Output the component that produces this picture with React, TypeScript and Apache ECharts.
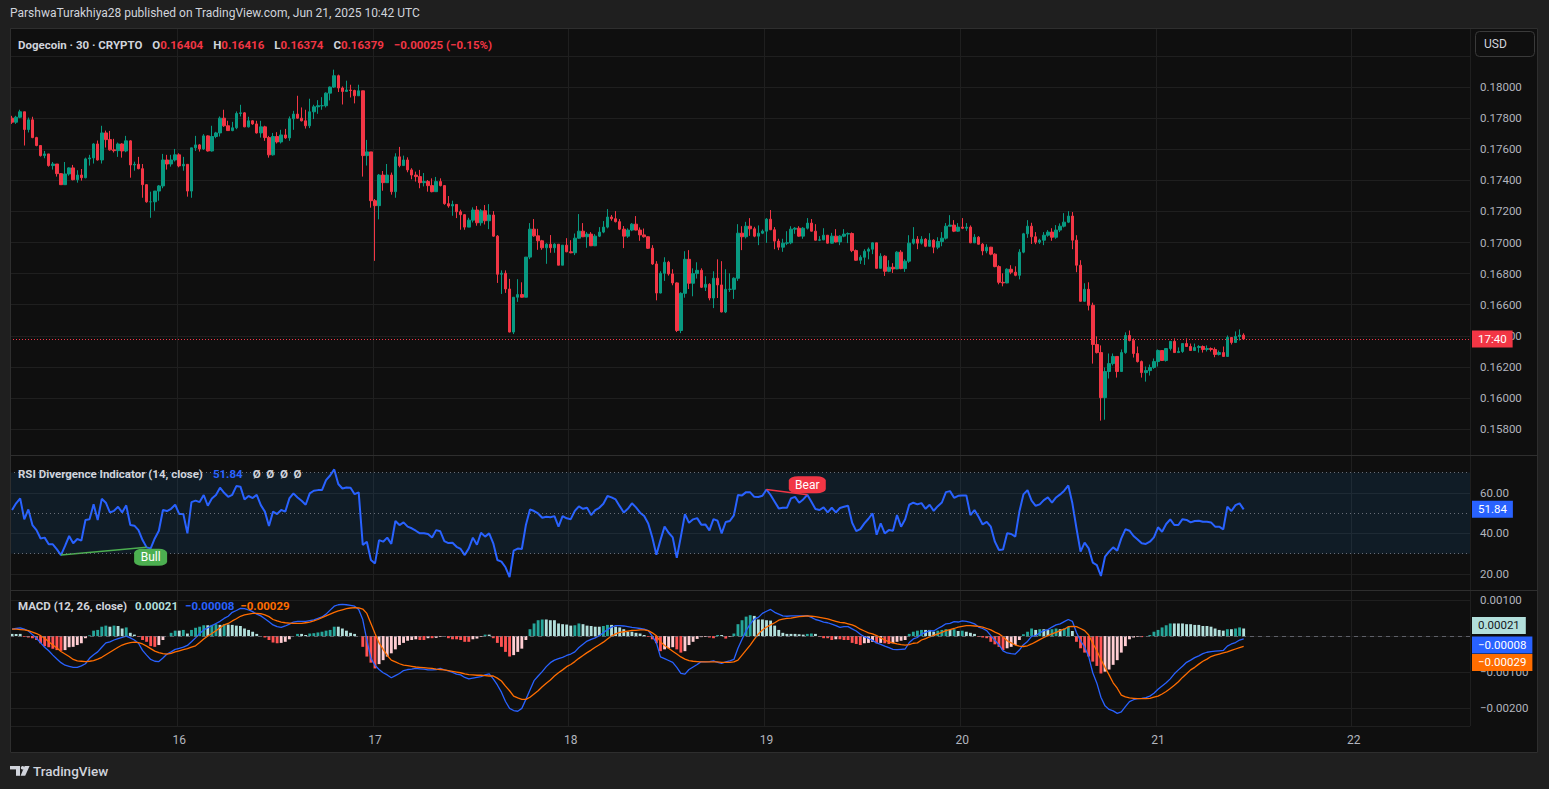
import React, { useEffect, useRef } from "react";
import * as echarts from "echarts";

const FONT = 'Roboto, "Noto Sans", "DejaVu Sans", sans-serif';

// ---- time slots (30 min) ----
const START_DAY = 15;
const START_MINUTE = 210; // 03:30
const SLOT_MINUTES = 30;
const SLOT_COUNT = 358;
const DAY_TICKS = ["16", "17", "18", "19", "20", "21", "22"];

// ---- price data, units of 0.00001 USD ----
const FIRST_OPEN = 17800;
const CLOSE = [
  17774,17806,17841,17727,17789,17675,17624,17559,17570,17495,
  17505,17443,17372,17441,17480,17404,17434,17417,17538,17544,
  17634,17531,17705,17662,17596,17591,17634,17589,17654,17499,
  17503,17475,17372,17262,17262,17331,17364,17531,17505,17531,
  17564,17493,17503,17331,17609,17628,17602,17686,17589,17682,
  17705,17800,17751,17720,17738,17830,17834,17744,17783,17763,
  17705,17744,17675,17564,17682,17647,17692,17673,17796,17826,
  17800,17783,17751,17841,17873,17880,17880,17961,18000,18073,
  17994,17972,17981,17978,17944,17976,17559,17583,17269,17237,
  17434,17385,17434,17327,17551,17495,17531,17467,17434,17424,
  17385,17392,17366,17327,17392,17366,17250,17235,17245,17198,
  17179,17099,17144,17209,17127,17204,17140,17177,17041,16796,
  16802,16701,16424,16648,16665,16648,16906,17086,17043,17011,
  16966,16989,16966,16989,16854,16983,16940,16934,17028,17073,
  17037,17054,16979,17041,17067,17099,17164,17153,17134,17086,
  17041,17080,17118,17080,17049,17037,16963,16862,16675,16802,
  16873,16798,16740,16434,16673,16892,16738,16800,16821,16712,
  16731,16643,16770,16727,16553,16699,16699,16770,17060,17037,
  17105,17088,17041,17060,17073,17150,17082,17009,16970,16996,
  16998,17086,17092,17041,17092,17125,17073,17015,17017,17047,
  16996,17041,17004,17041,17054,17058,16948,16886,16905,16944,
  16957,16998,16834,16912,16815,16841,16830,16938,16832,16880,
  16996,17021,16996,17021,16976,17015,16970,17006,17028,17105,
  17112,17073,17099,17092,17099,16998,17034,16989,16946,16970,
  16925,16845,16744,16740,16828,16809,16789,16938,17056,17105,
  17037,17002,17015,17047,17067,17034,17080,17105,17131,17170,
  17015,16854,16622,16699,16596,16344,16292,16002,16170,16221,
  16267,16170,16292,16402,16370,16286,16234,16163,16176,16196,
  16234,16305,16241,16318,16364,16292,16299,16350,16331,16305,
  16325,16331,16312,16318,16312,16280,16292,16267,16389,16357,
  16396,16404,16379,
];
const HIGH = [
  17815,17815,17854,17841,17804,17809,17680,17626,17589,17570,
  17518,17505,17447,17518,17484,17499,17465,17473,17546,17564,
  17639,17656,17751,17720,17718,17667,17643,17639,17686,17658,
  17520,17551,17505,17376,17327,17331,17370,17570,17564,17564,
  17602,17574,17551,17503,17609,17686,17634,17697,17690,17751,
  17712,17811,17854,17783,17776,17843,17886,17839,17809,17787,
  17783,17783,17751,17686,17705,17710,17725,17731,17811,17847,
  17944,17869,17854,17925,17886,17916,17935,17966,18004,18112,
  18080,18004,18041,18015,17983,18015,17976,17660,17583,17280,
  17441,17460,17505,17450,17574,17615,17559,17548,17478,17456,
  17467,17447,17402,17413,17422,17413,17370,17299,17269,17247,
  17211,17183,17159,17226,17235,17215,17241,17247,17202,17048,
  16821,16821,16766,16648,16764,16744,16906,17125,17151,17088,
  17017,16995,17048,16995,16989,16983,17028,17015,17058,17183,
  17125,17067,17067,17054,17099,17138,17215,17177,17202,17151,
  17106,17091,17125,17170,17097,17090,17039,16983,16880,16815,
  16905,16882,16828,16744,16680,16944,16951,16834,16873,16834,
  16783,16738,16815,16892,16880,16828,16802,16776,17118,17105,
  17133,17157,17101,17110,17084,17157,17209,17099,17024,17024,
  17073,17105,17099,17105,17099,17157,17151,17118,17041,17092,
  17047,17062,17086,17047,17086,17065,17065,16955,16918,16957,
  16968,17002,16998,16931,16918,16886,16867,16944,16951,16892,
  17047,17099,17041,17041,17028,17060,17021,17034,17067,17125,
  17176,17144,17125,17157,17125,17110,17054,17041,16996,16989,
  16972,16931,16854,16802,16834,16854,16847,16957,17062,17144,
  17127,17067,17024,17067,17080,17092,17112,17123,17189,17202,
  17196,17047,16886,16738,16744,16613,16396,16338,16196,16286,
  16286,16267,16312,16422,16434,16383,16331,16241,16202,16215,
  16254,16312,16308,16320,16366,16383,16325,16353,16383,16350,
  16350,16340,16338,16338,16325,16325,16305,16331,16402,16389,
  16428,16441,16416,
];
const LOW = [
  17763,17763,17800,17624,17708,17671,17619,17553,17542,17488,
  17469,17424,17370,17374,17430,17400,17385,17398,17413,17495,
  17508,17527,17508,17611,17591,17579,17551,17546,17581,17417,
  17462,17471,17288,17256,17159,17204,17269,17349,17469,17488,
  17521,17484,17462,17295,17288,17589,17585,17596,17585,17585,
  17671,17682,17744,17718,17716,17729,17811,17742,17740,17757,
  17701,17675,17654,17546,17559,17637,17637,17667,17654,17725,
  17796,17779,17733,17736,17794,17828,17854,17869,17914,17994,
  17968,17888,17968,17933,17895,17944,17424,17495,17224,16882,
  17149,17333,17385,17308,17288,17484,17495,17452,17407,17392,
  17349,17361,17327,17323,17327,17361,17243,17224,17172,17157,
  17082,17082,17099,17129,17108,17108,17116,17086,17037,16740,
  16669,16676,16422,16411,16618,16646,16648,16893,17037,16953,
  16953,16863,16934,16934,16854,16854,16938,16931,16919,17024,
  17035,16966,16977,16977,17035,17060,17091,17140,17129,17080,
  16964,17030,17073,17078,17011,17032,16959,16856,16628,16673,
  16753,16787,16725,16424,16417,16645,16701,16654,16768,16707,
  16688,16628,16578,16643,16551,16546,16682,16637,16753,16951,
  17026,17043,17034,16983,17054,16998,17080,16957,16951,16940,
  16983,16989,17056,17037,17024,17084,17071,17013,17009,17015,
  16994,16994,17000,16983,17034,16996,16938,16882,16862,16856,
  16892,16925,16830,16832,16785,16809,16804,16828,16828,16811,
  16869,16987,16957,16987,16970,16974,16931,16957,16976,17019,
  17105,17067,17069,17086,17075,16996,16996,16987,16918,16931,
  16918,16841,16731,16718,16738,16796,16783,16763,16931,17030,
  16991,16989,16991,16983,17037,17011,17024,17067,17097,17125,
  16957,16809,16619,16619,16563,16221,16286,15854,15860,16125,
  16209,16131,16168,16284,16364,16260,16228,16131,16105,16144,
  16187,16202,16239,16234,16305,16290,16290,16290,16329,16303,
  16303,16292,16292,16299,16299,16262,16273,16267,16267,16344,
  16355,16370,16374,
];

// ---- RSI (14, close) ----
const RSI = [
  51.5,54.8,57.2,46.9,51.8,44.1,41.6,37.5,37.9,34.6,
  34.6,32.1,29.3,33.8,38.7,35.1,37.2,36.4,46.6,46.9,
  54.3,46.6,57.0,55.1,50.3,51.1,53.1,50.3,53.8,44.1,
  43.8,41.6,36.7,33.1,32.6,37.5,41.3,51.5,51.0,52.1,
  54.1,49.5,49.5,40.0,55.4,56.1,55.4,58.9,53.6,57.2,
  58.9,62.5,60.0,58.0,59.0,63.3,63.0,56.7,58.4,57.4,
  59.0,53.9,50.7,43.6,50.7,49.5,51.5,50.7,57.2,59.7,
  57.7,56.1,54.1,59.7,61.0,61.3,61.3,66.2,68.5,71.5,
  64.3,62.1,62.6,62.5,59.3,60.2,34.3,35.9,26.9,25.2,
  36.7,35.9,37.9,34.8,46.1,44.1,45.4,43.3,42.5,41.3,
  40.0,40.0,39.7,38.0,41.6,41.0,36.2,35.2,35.4,33.4,
  32.3,29.3,32.6,37.9,34.4,40.3,38.4,40.0,35.1,26.9,
  26.1,23.3,18.4,31.5,32.5,32.3,44.1,51.8,51.0,49.8,
  47.7,48.2,47.9,48.5,43.3,48.5,47.4,47.0,51.1,53.3,
  52.1,52.6,49.0,51.5,52.6,54.6,58.4,57.7,56.7,53.4,
  50.3,52.1,54.8,52.8,50.2,48.5,44.9,38.0,29.5,36.7,
  43.3,40.3,38.0,27.9,38.4,49.5,45.2,46.9,47.5,44.3,
  44.4,41.5,47.0,46.2,40.0,45.6,46.1,48.9,58.9,58.7,
  60.3,60.2,58.0,57.9,58.5,61.6,58.9,55.6,52.3,52.6,
  52.6,57.2,58.0,55.1,56.7,59.0,55.6,52.0,51.5,52.8,
  50.3,52.6,50.3,52.5,53.1,53.6,45.2,41.1,42.1,44.9,
  47.2,49.8,39.3,44.9,40.0,41.6,41.3,49.0,43.3,46.9,
  54.1,55.1,54.3,54.9,52.1,54.1,51.1,53.4,55.2,60.3,
  60.8,57.5,58.5,58.7,58.7,49.0,51.5,48.2,44.4,45.7,
  43.3,35.9,31.8,32.1,40.0,39.7,38.4,50.7,59.2,61.3,
  56.1,53.6,54.3,56.4,57.7,55.1,57.7,59.2,61.0,63.6,
  54.8,42.5,31.0,35.4,32.6,25.6,24.4,19.0,28.5,31.0,
  33.1,31.5,37.5,42.0,41.3,38.7,37.0,35.1,34.8,35.9,
  38.0,43.0,40.8,44.6,46.9,44.1,44.1,47.0,46.6,45.4,
  46.1,46.2,45.7,45.7,45.4,43.3,43.3,42.0,53.1,51.0,
  53.9,54.8,51.84,
];
const BULL_FROM = 12;
const BULL_TO = 33;
const BEAR_FROM = 185;
const BEAR_TO = 195;

// ---- MACD (12, 26, close), units of 0.00001 ----
const MACD = [
  19,21,23,19,14,4,-6,-19,-31,-41,
  -53,-64,-74,-81,-84,-87,-87,-83,-77,-62,
  -52,-44,-31,-19,-16,-11,-7,-4,0,-5,
  -11,-20,-40,-53,-65,-70,-71,-61,-50,-44,
  -37,-34,-31,-26,-16,-5,7,17,23,29,
  35,41,49,55,66,71,77,76,73,68,
  61,56,48,40,31,26,24,28,33,39,
  41,41,41,43,45,49,53,61,72,83,
  87,88,87,85,83,74,46,-11,-62,-81,
  -93,-102,-108,-116,-110,-104,-96,-93,-92,-90,
  -91,-92,-94,-94,-93,-90,-94,-97,-101,-106,
  -108,-115,-119,-117,-115,-113,-108,-105,-119,-136,
  -156,-182,-201,-207,-209,-201,-176,-150,-124,-111,
  -99,-85,-74,-67,-63,-59,-54,-50,-44,-32,
  -23,-14,-9,-5,1,9,18,25,29,29,
  28,26,24,23,21,19,15,0,-19,-58,
  -63,-68,-73,-87,-104,-106,-93,-86,-79,-71,
  -72,-71,-69,-73,-76,-72,-69,-65,-34,-9,
  15,33,47,52,63,69,74,66,61,56,
  55,56,56,56,56,57,52,46,43,39,
  37,33,29,24,26,26,20,14,5,-2,
  -6,-12,-19,-23,-28,-32,-37,-38,-37,-36,
  -18,-8,-4,6,10,15,14,21,27,34,
  35,40,39,42,41,38,34,25,21,15,
  1,-12,-24,-41,-47,-49,-50,-39,-24,-15,
  -1,1,9,15,18,25,31,34,40,46,
  41,10,-13,-31,-57,-102,-131,-170,-194,-204,
  -208,-215,-211,-196,-182,-177,-174,-173,-171,-167,
  -159,-148,-139,-130,-119,-105,-94,-84,-73,-67,
  -60,-55,-49,-45,-43,-42,-41,-40,-28,-22,
  -18,-11,-8,
];
const SIGNAL = [
  19,19,18,17,15,11,7,1,-6,-16,
  -25,-33,-43,-50,-57,-65,-69,-70,-71,-70,
  -68,-64,-59,-52,-45,-38,-31,-25,-21,-18,
  -17,-18,-22,-28,-35,-42,-46,-49,-50,-48,
  -44,-41,-38,-35,-31,-27,-18,-8,0,7,
  15,23,31,35,42,48,55,59,61,63,
  63,62,59,54,46,42,39,37,36,35,
  35,35,37,39,42,46,51,56,61,66,
  70,73,76,78,79,78,75,63,35,7,
  -19,-37,-54,-67,-72,-77,-81,-82,-84,-86,
  -87,-88,-89,-90,-92,-93,-94,-96,-98,-100,
  -102,-105,-107,-108,-109,-109,-110,-111,-111,-117,
  -125,-139,-152,-167,-172,-176,-176,-170,-161,-152,
  -141,-131,-122,-111,-102,-94,-85,-79,-71,-62,
  -54,-46,-39,-31,-24,-17,-8,0,6,10,
  12,14,16,16,17,17,15,9,1,-16,
  -26,-34,-42,-50,-58,-64,-68,-70,-71,-72,
  -72,-72,-72,-72,-73,-73,-73,-72,-67,-53,
  -39,-25,-9,6,17,25,31,37,44,47,
  49,50,52,54,55,56,55,54,52,50,
  48,44,41,38,37,34,31,26,19,14,
  9,6,1,-5,-11,-16,-19,-22,-24,-25,
  -24,-20,-19,-11,-7,-2,2,6,10,15,
  18,21,25,27,29,29,28,27,25,21,
  17,11,6,-2,-13,-19,-25,-28,-29,-27,
  -22,-16,-10,-4,1,6,10,15,19,26,
  27,26,21,15,3,-20,-41,-65,-87,-108,
  -130,-145,-164,-169,-172,-173,-174,-174,-174,-173,
  -170,-167,-161,-154,-146,-137,-127,-115,-105,-94,
  -87,-78,-70,-64,-57,-53,-50,-47,-44,-40,
  -36,-32,-29,
];
const HIST = [
  6,6,6,-2,-4,-6,-11,-20,-28,-31,
  -35,-39,-41,-39,-31,-30,-25,-20,-6,2,
  15,17,26,29,26,29,28,21,24,9,
  4,-2,-11,-16,-28,-30,-25,-11,0,9,
  15,15,17,7,17,23,26,30,30,31,
  33,31,33,32,31,29,28,21,17,12,
  6,0,-4,-11,-18,-20,-19,-16,-9,0,
  6,6,3,7,8,10,12,15,17,26,
  26,21,15,9,6,0,-30,-57,-74,-90,
  -78,-67,-57,-48,-37,-25,-19,-13,-11,-9,
  -11,-11,-6,-6,-5,-2,0,-6,-9,-9,
  -11,-16,-16,-9,-7,-2,4,4,-6,-19,
  -30,-44,-57,-53,-44,-35,-11,19,35,44,
  46,46,44,44,35,33,32,29,30,35,
  33,29,28,26,26,28,31,31,26,24,
  19,12,12,9,7,3,-2,-9,-20,-42,
  -37,-34,-31,-37,-46,-42,-25,-16,-8,-3,
  -2,-4,-6,3,3,-7,-2,7,33,44,
  54,58,56,46,46,44,43,29,17,9,
  6,6,6,5,4,6,7,6,-2,-6,
  -6,-11,-9,-9,-11,-11,-19,-22,-25,-20,
  -19,-16,-20,-19,-20,-22,-20,-16,-13,-11,
  6,12,15,17,17,17,12,15,17,19,
  17,19,14,15,12,9,6,-2,-4,-6,
  -16,-23,-30,-39,-34,-30,-25,-11,5,12,
  21,17,19,19,17,19,21,19,21,26,
  14,-16,-34,-46,-57,-71,-83,-104,-99,-93,
  -80,-67,-46,-28,-9,-4,-2,-3,0,3,
  12,17,24,30,35,35,35,35,33,33,
  31,31,28,28,26,21,17,15,19,19,
  21,24,21,
];

const COUNTDOWN = "17:40";
const PUBLISHED = "ParshwaTurakhiya28 published on TradingView.com, Jun 21, 2025 10:42 UTC";
const SYMBOL = "Dogecoin · 30 · CRYPTO";
const RSI_TITLE = "RSI Divergence Indicator (14, close)";
const MACD_TITLE = "MACD (12, 26, close)";

const CATEGORIES = Array.from({ length: SLOT_COUNT }, (_, k) => {
  const m = START_MINUTE + k * SLOT_MINUTES;
  const day = START_DAY + Math.floor(m / 1440);
  const mm = m % 1440;
  const hh = String(Math.floor(mm / 60)).padStart(2, "0");
  const mi = String(mm % 60).padStart(2, "0");
  return `${day} ${hh}:${mi}`;
});

const GRID_COLOR = "#1f1f1f";
const AXIS_TEXT = "#b2b5be";
const UP = "#089981";
const DOWN = "#f23645";
const FS = 11.5;

const fmtSigned = (v: number, d: number) => (v < 0 ? "\u2212" : "") + Math.abs(v).toFixed(d);
const isDayTick = (v: string) => v.endsWith(" 00:00") && DAY_TICKS.includes(v.split(" ")[0]);

function buildOption() {
  const n = CLOSE.length;
  const candles = CLOSE.map((c, i) => {
    const o = i === 0 ? FIRST_OPEN : CLOSE[i - 1];
    const h = Math.max(HIGH[i], o, c);
    const l = Math.min(LOW[i], o, c);
    return [o / 1e5, c / 1e5, l / 1e5, h / 1e5];
  });
  const last = candles[n - 1];
  const lastOpen = last[0], lastClose = last[1], lastLow = last[2], lastHigh = last[3];
  const chg = lastClose - lastOpen;
  const chgPct = (chg / lastOpen) * 100;

  const macd = MACD.map((v) => v / 1e5);
  const signal = SIGNAL.map((v) => v / 1e5);
  const histColor = (i: number) => {
    const h = HIST[i];
    const p = i > 0 ? HIST[i - 1] : h;
    if (h >= 0) return p < h ? "#26a69a" : "#b2dfdb";
    return p < h ? "#ffcdd2" : "#ff5252";
  };
  const hist = HIST.map((v, i) => ({ value: v / 1e5, itemStyle: { color: histColor(i) } }));

  const rsiLast = RSI[n - 1];
  const macdLast = macd[n - 1], sigLast = signal[n - 1], histLast = HIST[n - 1] / 1e5;

  const bull = RSI.map((v, i) => (i === BULL_FROM || i === BULL_TO ? v : "-"));
  const bear = RSI.map((v, i) => (i === BEAR_FROM || i === BEAR_TO ? v : "-"));

  const xAxis = (gi: number, labels: boolean) => ({
    type: "category",
    gridIndex: gi,
    data: CATEGORIES,
    boundaryGap: true,
    axisLine: { show: false },
    axisTick: { show: false },
    axisPointer: { show: false },
    axisLabel: labels
      ? {
          show: true,
          interval: (_i: number, v: string) => isDayTick(v),
          formatter: (v: string) => v.split(" ")[0],
          color: AXIS_TEXT,
          fontSize: 12,
          fontFamily: FONT,
          margin: 8,
        }
      : { show: false },
    splitLine: {
      show: true,
      interval: (_i: number, v: string) => isDayTick(v),
      lineStyle: { color: GRID_COLOR, width: 1 },
    },
  });

  const yBase = {
    type: "value",
    position: "right",
    scale: true,
    axisLine: { show: false },
    axisTick: { show: false },
    splitLine: { lineStyle: { color: GRID_COLOR, width: 1 } },
  };
  const labelBase = {
    color: AXIS_TEXT,
    fontSize: FS,
    fontFamily: FONT,
    margin: 10,
    showMinLabel: false,
    showMaxLabel: false,
  };

  const badge = (text: string, bg: string, fg: string, dy = 0) => ({
    show: true,
    position: "end",
    distance: 2,
    formatter: text,
    backgroundColor: bg,
    color: fg,
    padding: [2, 6, 2, 6],
    fontSize: FS,
    lineHeight: 13,
    fontFamily: FONT,
    offset: [0, dy],
  });
  const hidden = { color: "rgba(0,0,0,0)", width: 0 };
  const dotted = { color: "rgba(120,123,134,0.85)", type: [1, 3], width: 1 };
  const mlBase = { symbol: ["none", "none"], silent: true, animation: false, precision: 8 };

  const g = { color: "#d1d4dc", fontSize: FS, fontFamily: FONT };
  const title = [
    { text: PUBLISHED, left: 10, top: 7, padding: 0, textStyle: { ...g, fontWeight: "normal", fontSize: 12 } },
    {
      text:
        `{g|${SYMBOL}}  {g|O}{r|${lastOpen.toFixed(5)}}  {g|H}{r|${lastHigh.toFixed(5)}}  ` +
        `{g|L}{r|${lastLow.toFixed(5)}}  {g|C}{r|${lastClose.toFixed(5)}}  ` +
        `{r|${fmtSigned(chg, 5)} (${fmtSigned(chgPct, 2)}%)}`,
      left: 18,
      top: 36,
      padding: 0,
      textStyle: { rich: { g: { ...g }, r: { ...g, color: DOWN } } },
    },
    {
      text: `{g|${RSI_TITLE}}  {b|${rsiLast.toFixed(2)}}  {g|\u00d8  \u00d8  \u00d8  \u00d8}`,
      left: 18,
      top: 465,
      padding: 0,
      textStyle: { rich: { g: { ...g }, b: { ...g, color: "#2962ff" } } },
    },
    {
      text: `{g|${MACD_TITLE}}{t|${fmtSigned(histLast, 5)}}{b|${fmtSigned(macdLast, 5)}}{o|${fmtSigned(sigLast, 5)}}`,
      left: 18,
      top: 600,
      padding: 0,
      textStyle: {
        rich: {
          g: { ...g },
          t: { ...g, color: "#b2dfdb", padding: [0, 0, 0, 8] },
          b: { ...g, color: "#2962ff", padding: [0, 0, 0, 7] },
          o: { ...g, color: "#ff6d00", padding: [0, 0, 0, 6] },
        },
      },
    },
  ];

  const frame = "#1f1f1f";
  const graphic = [
    { type: "rect", shape: { x: 0, y: 0, width: 1549, height: 28 }, style: { fill: frame }, silent: true },
    { type: "rect", shape: { x: 0, y: 753, width: 1549, height: 36 }, style: { fill: frame }, silent: true },
    { type: "rect", shape: { x: 0, y: 28, width: 10, height: 725 }, style: { fill: frame }, silent: true },
    { type: "rect", shape: { x: 1538, y: 28, width: 11, height: 725 }, style: { fill: frame }, silent: true },
    {
      type: "rect",
      shape: { x: 10.5, y: 28.5, width: 1527, height: 724 },
      style: { fill: "none", stroke: "#2e2e2e", lineWidth: 1 },
      silent: true,
      z: 50,
    },
    { type: "line", shape: { x1: 10, y1: 455.5, x2: 1538, y2: 455.5 }, style: { stroke: "#2e2e2e", lineWidth: 1 }, z: 50, silent: true },
    { type: "line", shape: { x1: 10, y1: 590.5, x2: 1538, y2: 590.5 }, style: { stroke: "#2e2e2e", lineWidth: 1 }, z: 50, silent: true },
    {
      type: "rect",
      shape: { x: 1475.5, y: 31.5, width: 59, height: 25, r: 4 },
      style: { fill: "#0f0f0f", stroke: "#3a3a3a", lineWidth: 1 },
      z: 50,
      silent: true,
    },
    {
      type: "text",
      x: 1484,
      y: 44,
      style: { text: "USD", fill: "#d1d4dc", font: `12px ${FONT}`, verticalAlign: "middle", textVerticalAlign: "middle" },
      z: 51,
      silent: true,
    },
    // TradingView logo
    { type: "rect", shape: { x: 10, y: 766, width: 10, height: 3.4 }, style: { fill: "#d1d4dc" }, z: 51, silent: true },
    { type: "rect", shape: { x: 16, y: 766, width: 4, height: 9.8 }, style: { fill: "#d1d4dc" }, z: 51, silent: true },
    { type: "circle", shape: { cx: 22.6, cy: 767.8, r: 1.8 }, style: { fill: "#d1d4dc" }, z: 51, silent: true },
    {
      type: "polygon",
      shape: { points: [[24.6, 766], [29.6, 766], [25.2, 775.8], [20.6, 775.8]] },
      style: { fill: "#d1d4dc" },
      z: 51,
      silent: true,
    },
    {
      type: "text",
      x: 33,
      y: 771,
      style: {
        text: "TradingView",
        fill: "#d1d4dc",
        font: `500 13.5px ${FONT}`,
        verticalAlign: "middle",
        textVerticalAlign: "middle",
      },
      z: 51,
      silent: true,
    },
  ];

  return {
    animation: false,
    backgroundColor: "#0f0f0f",
    title,
    graphic,
    grid: [
      { left: 10, right: 79, top: 28, height: 427, show: false },
      { left: 10, right: 79, top: 455, height: 135, show: false },
      { left: 10, right: 79, top: 590, height: 136, show: false },
    ],
    xAxis: [xAxis(0, false), xAxis(1, false), xAxis(2, true)],
    yAxis: [
      {
        ...yBase,
        gridIndex: 0,
        min: 0.15633,
        max: 0.1838,
        splitNumber: 14,
        axisLabel: { ...labelBase, formatter: (v: number) => (v > 0.181 ? "" : v.toFixed(5)) },
      },
      {
        ...yBase,
        gridIndex: 1,
        min: 12.1,
        max: 78.6,
        splitNumber: 3,
        axisLabel: { ...labelBase, formatter: (v: number) => v.toFixed(2) },
      },
      {
        ...yBase,
        gridIndex: 2,
        min: -0.0025,
        max: 0.00128,
        splitNumber: 4,
        axisLabel: {
          ...labelBase,
          formatter: (v: number) => (Math.abs(v) < 1e-9 ? "" : fmtSigned(v, 5)),
        },
      },
    ],
    series: [
      {
        type: "candlestick",
        name: "DOGE",
        xAxisIndex: 0,
        yAxisIndex: 0,
        data: candles,
        barWidth: 3,
        itemStyle: { color: UP, color0: DOWN, borderColor: UP, borderColor0: DOWN, borderWidth: 1 },
        markLine: {
          ...mlBase,
          data: [
            {
              yAxis: lastClose,
              lineStyle: { color: DOWN, type: [1, 2], width: 1 },
              label: badge(COUNTDOWN, DOWN, "#ffffff"),
            },
          ],
        },
      },
      {
        type: "line",
        name: "RSI",
        xAxisIndex: 1,
        yAxisIndex: 1,
        data: RSI,
        symbol: "none",
        lineStyle: { color: "#2962ff", width: 2 },
        markArea: {
          silent: true,
          itemStyle: { color: "rgba(33,150,243,0.1)" },
          data: [[{ yAxis: 70 }, { yAxis: 30 }]],
        },
        markLine: {
          ...mlBase,
          data: [
            { yAxis: 70, lineStyle: dotted, label: { show: false } },
            { yAxis: 50, lineStyle: dotted, label: { show: false } },
            { yAxis: 30, lineStyle: dotted, label: { show: false } },
            { yAxis: rsiLast, lineStyle: hidden, label: badge(rsiLast.toFixed(2), "#2962ff", "#ffffff") },
          ],
        },
        z: 3,
      },
      {
        type: "line",
        name: "Bull",
        xAxisIndex: 1,
        yAxisIndex: 1,
        data: bull,
        connectNulls: true,
        symbol: "none",
        lineStyle: { color: "#4caf50", width: 1.5 },
        markPoint: {
          silent: true,
          animation: false,
          data: [
            {
              coord: [CATEGORIES[BULL_TO], RSI[BULL_TO]],
              symbol: "roundRect",
              symbolSize: [33, 17],
              symbolOffset: [4, 10],
              itemStyle: { color: "#4caf50" },
              label: { show: true, formatter: "Bull", color: "#ffffff", fontSize: 12, fontFamily: FONT },
            },
          ],
        },
        z: 4,
      },
      {
        type: "line",
        name: "Bear",
        xAxisIndex: 1,
        yAxisIndex: 1,
        data: bear,
        connectNulls: true,
        symbol: "none",
        lineStyle: { color: DOWN, width: 1.5 },
        markPoint: {
          silent: true,
          animation: false,
          data: [
            {
              coord: [CATEGORIES[BEAR_TO], RSI[BEAR_TO]],
              symbol: "roundRect",
              symbolSize: [37, 17],
              symbolOffset: [0, -10],
              itemStyle: { color: DOWN },
              label: { show: true, formatter: "Bear", color: "#ffffff", fontSize: 12, fontFamily: FONT },
            },
          ],
        },
        z: 4,
      },
      {
        type: "bar",
        name: "Histogram",
        xAxisIndex: 2,
        yAxisIndex: 2,
        data: hist,
        barWidth: "70%",
        markLine: {
          ...mlBase,
          data: [
            { yAxis: 0, lineStyle: { color: "rgba(120,123,134,0.7)", type: [4, 4], width: 1 }, label: { show: false } },
            { yAxis: histLast, lineStyle: hidden, label: badge(fmtSigned(histLast, 5), "#b2dfdb", "#131722", -3) },
          ],
        },
      },
      {
        type: "line",
        name: "MACD",
        xAxisIndex: 2,
        yAxisIndex: 2,
        data: macd,
        symbol: "none",
        lineStyle: { color: "#2962ff", width: 1.3 },
        markLine: {
          ...mlBase,
          data: [{ yAxis: macdLast, lineStyle: hidden, label: badge(fmtSigned(macdLast, 5), "#2962ff", "#ffffff", 6) }],
        },
      },
      {
        type: "line",
        name: "Signal",
        xAxisIndex: 2,
        yAxisIndex: 2,
        data: signal,
        symbol: "none",
        lineStyle: { color: "#ff6d00", width: 1.3 },
        markLine: {
          ...mlBase,
          data: [{ yAxis: sigLast, lineStyle: hidden, label: badge(fmtSigned(sigLast, 5), "#ff6d00", "#ffffff", 16) }],
        },
      },
    ],
  };
}

export default function App() {
  const ref = useRef<HTMLDivElement>(null);
  useEffect(() => {
    document.body.style.margin = "0";
    const chart = echarts.init(ref.current as HTMLDivElement, undefined, { renderer: "svg" });
    chart.setOption(buildOption() as any);
    return () => chart.dispose();
  }, []);
  return <div ref={ref} style={{ width: 1549, height: 789 }} />;
}
